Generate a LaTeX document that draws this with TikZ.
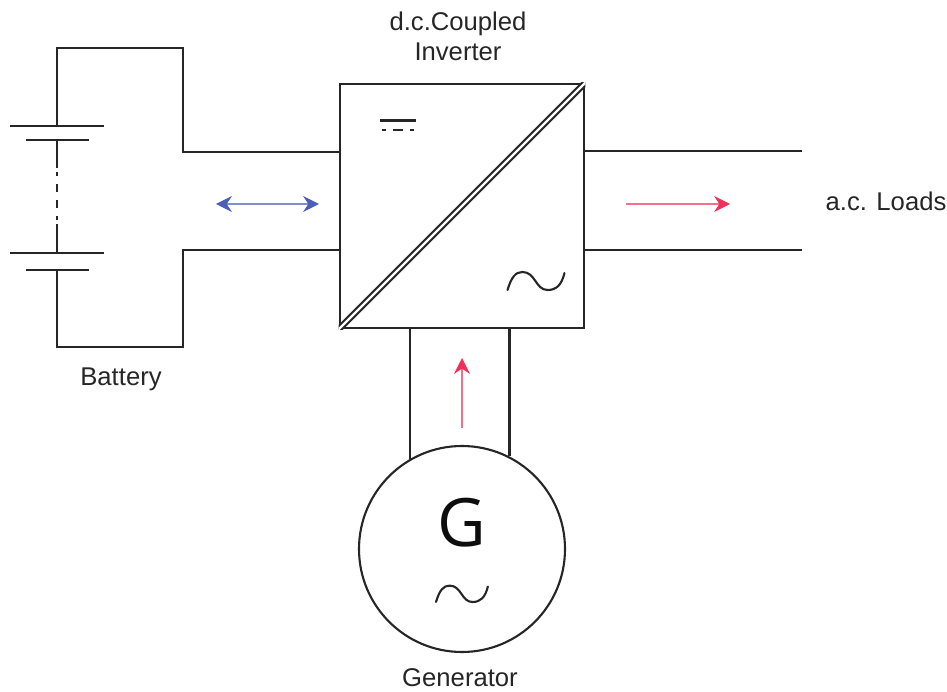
\documentclass[tikz,border=0pt]{standalone}
\usepackage{fontspec}
\setmainfont{Liberation Sans}
\newfontfamily\bigfont{Open Sans}
\usetikzlibrary{arrows.meta}

\definecolor{flowblue}{HTML}{4A5FB5}
\definecolor{flowred}{HTML}{F0305A}
\tikzset{
  wire/.style={draw=black!85, line width=1.55pt},
  thinwire/.style={draw=black!85, line width=1.2pt},
  label/.style={font=\fontsize{14.6}{17}\selectfont, text=black!85, inner sep=0pt, align=center},
  invbox/.style={wire, rectangle, minimum size=4.88cm, inner sep=0pt},
  genmachine/.style={thinwire, circle, minimum size=4.12cm, inner sep=0pt},
  bluetip/.tip={Stealth[length=9pt, width=9pt, flowblue]},
  redtip/.tip={Stealth[length=9pt, width=9pt, flowred]},
  acwave/.pic={
    \draw[thinwire, line cap=round] (0cm,0cm) .. controls (0.08cm,0.26cm) and (0.16cm,0.36cm) .. (0.3cm,0.36cm)
      .. controls (0.56cm,0.36cm) and (0.56cm,0cm) .. (0.8cm,0cm)
      .. controls (0.98cm,0cm) and (1.08cm,0.1cm) .. (1.14cm,0.34cm);
  }
}

\begin{document}
\begin{tikzpicture}
  \useasboundingbox (0cm,0cm) rectangle (18.94cm,-13.84cm);

  % inverter
  \node[invbox] (inv) at (9.24cm,-4.12cm) {};
  \begin{scope}
    \clip (inv.south west) rectangle (inv.north east);
    \draw[thinwire, double=white, double distance=1.3pt] (inv.south west) -- (inv.north east);
  \end{scope}
  \draw[wire] (7.6cm,-2.41cm) -- (8.32cm,-2.41cm);
  \draw[wire] (7.64cm,-2.6cm) -- (7.72cm,-2.6cm);
  \draw[wire] (7.86cm,-2.6cm) -- (8.06cm,-2.6cm);
  \draw[wire] (8.2cm,-2.6cm) -- (8.28cm,-2.6cm);
  \pic at (10.15cm,-5.8cm) {acwave};
  \node[label] (invlabel) at (9.16cm,-0.72cm) {d.c.Coupled\\Inverter};

  % battery
  \coordinate (cellAlong) at (1.14cm,-2.52cm);
  \coordinate (cellAshort) at (1.14cm,-2.8cm);
  \coordinate (cellBlong) at (1.14cm,-5.06cm);
  \coordinate (cellBshort) at (1.14cm,-5.4cm);
  \coordinate (gapA) at (1.14cm,-3.36cm);
  \coordinate (gapB) at (1.14cm,-4.48cm);
  \draw[wire] (0.2cm,-2.52cm) -- (2.08cm,-2.52cm);
  \draw[wire] (0.52cm,-2.8cm) -- (1.78cm,-2.8cm);
  \draw[wire] (0.2cm,-5.06cm) -- (2.08cm,-5.06cm);
  \draw[wire] (0.52cm,-5.4cm) -- (1.78cm,-5.4cm);
  \draw[wire] (cellAshort) -- (gapA);
  \draw[wire, dash pattern=on 0pt off 0.08cm on 0.08cm off 0.16cm on 0.16cm off 0.16cm on 0.16cm off 0.16cm on 0.08cm off 0.08cm] (gapA) -- (gapB);
  \draw[wire] (gapB) -- (cellBlong);
  \draw[wire] (cellAlong) -- (1.14cm,-0.96cm) -- (3.66cm,-0.96cm) -- (3.66cm,-3.04cm) -- (inv.west |- 0,-3.04cm);
  \draw[wire] (cellBshort) -- (1.14cm,-6.94cm) -- (3.66cm,-6.94cm) -- (3.66cm,-5cm) -- (inv.west |- 0,-5cm);
  \node[label] (batlabel) at (2.42cm,-7.58cm) {Battery};

  % a.c. side
  \coordinate (loadA) at (16.04cm,-3.02cm);
  \coordinate (loadB) at (16.04cm,-5cm);
  \draw[wire] (inv.east |- loadA) -- (loadA);
  \draw[wire] (inv.east |- loadB) -- (loadB);
  \node[label] (loadlabel) at (17.72cm,-4.02cm) {a.c. Loads};

  % generator
  \node[genmachine] (gen) at (9.24cm,-10.98cm) {};
  \draw[wire] (inv.south -| gen.120) -- (gen.120);
  \draw[wire] (inv.south -| gen.63) -- (gen.63);
  \node[font=\bigfont\fontsize{38}{38}\selectfont, inner sep=0pt, text=black!95] (gentext) at (9.24cm,-10.45cm) {G};
  \pic at (8.72cm,-12.04cm) [scale=0.91] {acwave};
  \node[label] (genlabel) at (9.2cm,-13.56cm) {Generator};

  % power flow
  \coordinate (flowAa) at (4.32cm,-4.08cm);
  \coordinate (flowAb) at (6.38cm,-4.08cm);
  \coordinate (flowBa) at (12.52cm,-4.08cm);
  \coordinate (flowBb) at (14.6cm,-4.08cm);
  \coordinate (flowCa) at (9.24cm,-8.56cm);
  \coordinate (flowCb) at (9.24cm,-7.16cm);
  \draw[line width=0.9pt, flowblue!70, bluetip-bluetip] (flowAa) -- (flowAb);
  \draw[line width=0.9pt, flowred!70, -redtip] (flowBa) -- (flowBb);
  \draw[line width=0.9pt, flowred!70, -redtip] (flowCa) -- (flowCb);
\end{tikzpicture}
\end{document}
